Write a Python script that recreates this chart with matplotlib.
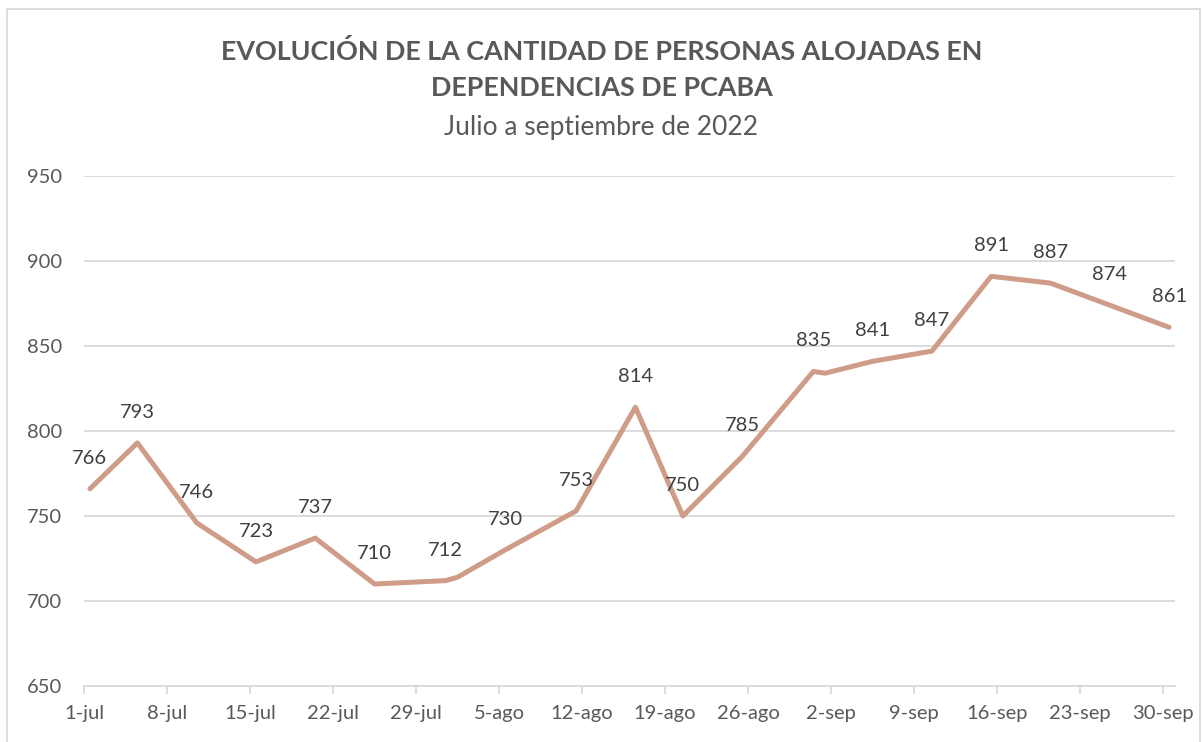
import matplotlib.pyplot as plt
import pandas as pd
from matplotlib.patches import Rectangle

# Datos
fechas = ["2022-07-01", "2022-07-05", "2022-07-10", "2022-07-15", "2022-07-20",
          "2022-07-25", "2022-07-31", "2022-08-01", "2022-08-05", "2022-08-11",
          "2022-08-16", "2022-08-20", "2022-08-25", "2022-08-31", "2022-09-01",
          "2022-09-05", "2022-09-10", "2022-09-15", "2022-09-20", "2022-09-25",
          "2022-09-30"]
personas = [766, 793, 746, 723, 737, 710, 712, 714, 730, 753, 814, 750, 785,
            835, 834, 841, 847, 891, 887, 874, 861]
con_etiqueta = [True, True, True, True, True, True, True, False, True, True,
                True, True, True, True, False, True, True, True, True, True,
                True]
meses = {7: "jul", 8: "ago", 9: "sep"}

titulo = "EVOLUCIÓN DE LA CANTIDAD DE PERSONAS ALOJADAS EN\nDEPENDENCIAS DE PCABA"
subtitulo = "Julio a septiembre de 2022"

color_linea = "#CF9C88"
gris_texto = "#595959"
gris_grilla = "#D9D9D9"

plt.rcParams['font.family'] = ['Lato', 'DejaVu Sans']

fig = plt.figure(figsize=(12.03, 7.42), dpi=100)
ax = fig.add_axes([84 / 1203, 56 / 742, 1091 / 1203, 510 / 742])

# Excel coloca cada punto en el centro del día
x = pd.to_datetime(fechas) + pd.Timedelta(hours=12)
ax.plot(x, personas, color=color_linea, lw=3.6, solid_joinstyle='round',
        solid_capstyle='round', zorder=3)

for xi, yi, lab in zip(x, personas, con_etiqueta):
    if lab:
        ax.annotate(str(yi), (xi, yi), xytext=(0, 22), textcoords='offset points',
                    ha='center', va='center', fontsize=14.5, color='#404040')

ax.set_ylim(650, 950)
ax.set_yticks(range(650, 951, 50))
ax.set_xlim(pd.Timestamp("2022-07-01"), pd.Timestamp("2022-10-01"))
ticks = pd.date_range("2022-07-01", "2022-09-30", freq="7D")
ax.set_xticks(ticks)
ax.set_xticklabels([f"{t.day}-{meses[t.month]}" for t in ticks])

ax.grid(axis='y', color=gris_grilla, lw=1.3)
ax.set_axisbelow(True)
for s in ['top', 'right', 'left']:
    ax.spines[s].set_visible(False)
ax.spines['bottom'].set_color(gris_grilla)
ax.spines['bottom'].set_linewidth(1.3)
ax.tick_params(axis='y', length=0, pad=16, labelsize=14.5, labelcolor=gris_texto)
ax.tick_params(axis='x', length=6, width=1.3, color=gris_grilla, pad=8,
               labelsize=14.5, labelcolor=gris_texto)

fig.text(0.5, 1 - 70 / 742, titulo, ha='center', va='center', fontsize=19.4,
         fontweight='bold', color=gris_texto, linespacing=1.6)
fig.text(0.5, 1 - 127 / 742, subtitulo, ha='center', va='center', fontsize=19,
         color=gris_texto)

# borde del área del gráfico
fig.patches.append(Rectangle((7 / 1203, -0.05), 1193 / 1203, 1.05 - 9 / 742,
                             transform=fig.transFigure, fill=False,
                             edgecolor=gris_grilla, lw=1.3))

fig.savefig("out.png", dpi=100)
